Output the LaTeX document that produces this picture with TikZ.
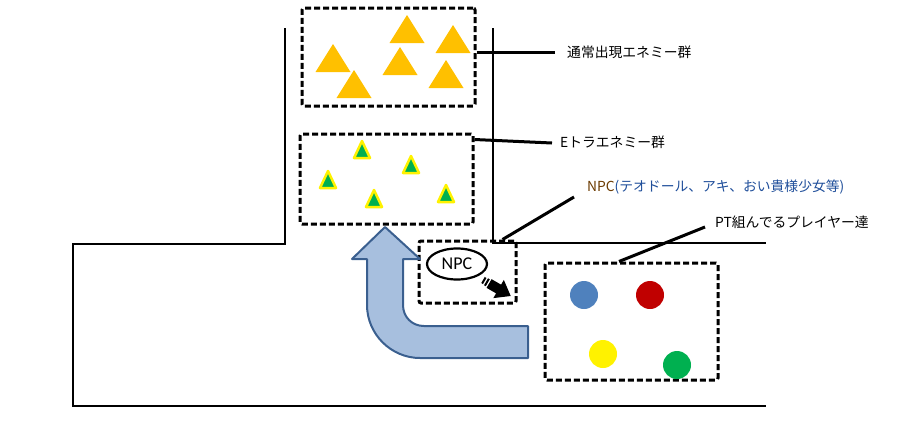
\documentclass[tikz,border=0pt]{standalone}
\usepackage{fontspec}
\setmainfont{Carlito}
\newfontfamily\jpfont{Noto Sans CJK JP}
\usetikzlibrary{shapes.geometric}

\definecolor{enemyorange}{HTML}{FFC000}
\definecolor{eventgreen}{HTML}{00B050}
\definecolor{uturnfill}{HTML}{A7BFDE}
\definecolor{uturnline}{HTML}{3A5F8F}
\definecolor{pcblue}{HTML}{4F81BD}
\definecolor{pcred}{HTML}{C00000}
\definecolor{pcgreen}{HTML}{00B050}
\definecolor{npcbrown}{HTML}{6B3A00}
\definecolor{npcblue}{HTML}{1F4E9A}

\begin{document}
\begin{tikzpicture}[x=1pt,y=-1pt]

	\tikzset{groupbox/.style={draw,line width=3pt,dash pattern=on 6pt off 3pt,rounded corners=2pt,inner sep=0pt},
	         leader/.style={line width=3pt},
	         wall/.style={line width=1.1pt},
	         jplabel/.style={anchor=west,inner sep=0pt,font=\jpfont\fontsize{13.8}{14}\selectfont},
	         player/.style={circle,minimum size=28pt,inner sep=0pt}}

	\useasboundingbox (0,0) rectangle (904,432);

	% map outline
	\draw[wall] (285,28) -- (285,244) -- (73,244) -- (73,406) -- (766,406);
	\draw[wall] (493,28) -- (493,243) -- (766,243);

	% groups
	\node[groupbox,minimum width=173pt,minimum height=98pt] (normal) at (388.5,57) {};
	\node[groupbox,minimum width=173pt,minimum height=90pt] (event) at (386.5,179) {};
	\node[groupbox,minimum width=97pt,minimum height=62pt] (npcbox) at (467.5,272) {};
	\node[groupbox,minimum width=173pt,minimum height=117pt] (party) at (631.5,321.5) {};

	\foreach \x/\y in {407/15,453/25,333/44,400/47,354/70,446/60}
		\fill[enemyorange] (\x,\y) -- ++(17.5,28) -- ++(-35,0) -- cycle;
	\foreach \x/\y in {362/137,411/152,328/167,374/186,446/181}
		\filldraw[fill=eventgreen,draw=yellow,line width=2.5pt,line join=round]
			(\x,\y+4) -- ++(8,17) -- ++(-16,0) -- cycle;

	% U-turn
	\filldraw[fill=uturnfill,draw=uturnline,line width=2pt,line join=round]
		(385,227) -- (420,259) -- (403,259) -- (403,305)
		.. controls (403,317) and (412,326) .. (424,326) -- (528,326) -- (528,358) -- (420,358)
		.. controls (391,358) and (367,334) .. (367,305) -- (367,259) -- (352,259) -- cycle;

	\node[ellipse,draw,line width=2.2pt,minimum width=60pt,minimum height=31pt,inner sep=0pt,
	      font=\fontsize{18}{18}\selectfont] (npc) at (457,264) {NPC};
	\coordinate (npcmove) at (483,280);
	\begin{scope}[shift={(npcmove)},rotate=-30]
		\fill (0,-3.5) rectangle (2,3.5);
		\fill (3.5,-4) rectangle (5.5,4);
		\fill (7,-5) -- (18,-5) -- (18,-10.5) -- (32,0) -- (18,10.5) -- (18,5) -- (7,5) -- cycle;
	\end{scope}

	\node[player,fill=pcblue] (pc1) at (584,295) {};
	\node[player,fill=pcred] (pc2) at (650,295) {};
	\node[player,fill=yellow] (pc3) at (603,354) {};
	\node[player,fill=pcgreen] (pc4) at (677,365) {};

	% labels
	\node[jplabel] (normallbl) at (567,52) {通常出現エネミー群};
	\node[jplabel] (eventlbl) at (560,142) {Eトラエネミー群};
	\node[jplabel] (npclbl) at (587,187) {\textcolor{npcbrown}{NPC}\textcolor{npcblue}{(テオドール、アキ、おい貴様少女等)}};
	\node[jplabel] (partylbl) at (715,222) {PT組んでるプレイヤー達};

	\draw[leader] (normal.east |- normallbl.west) -- ([xshift=-12pt]normallbl.west);
	\draw[leader] ([yshift=-7pt]event.north east) -- ([xshift=-8pt,yshift=-1pt]eventlbl.west);
	\draw[leader] ([xshift=-15pt]npcbox.north east) -- ([xshift=-13pt,yshift=-10pt]npclbl.west);
	\draw[leader] ([xshift=-12.5pt]party.north) -- ([xshift=-10pt,yshift=-5pt]partylbl.west);

\end{tikzpicture}
\end{document}
